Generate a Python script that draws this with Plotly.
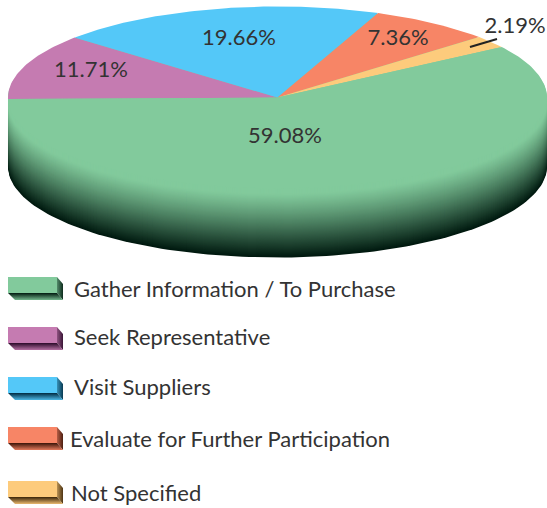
import numpy as np
import plotly.graph_objects as go

categories = ["Gather Information / To Purchase", "Seek Representative", "Visit Suppliers",
              "Evaluate for Further Participation", "Not Specified"]
values = [59.08, 11.71, 19.66, 7.36, 2.19]
colors = ["#82CA9C", "#C57BB1", "#54C8F8", "#F78566", "#FDCB7C"]
dark_colors = ["#00190F", "#2A0A28", "#002A40", "#3A1408", "#3A2408"]

CX, CY, RX, RY, DEPTH = 277.5, 97.5, 269.5, 91, 69
ROTATION = -1.0
FONT = "Lato"
TEXT = "#333333"

label_pos = [(285, 137), (91, 71), (239, 39), (398, 39), (515, 27)]
legend_y = [277, 327, 377, 427, 481]
legend_text_x = [74, 74, 74, 70, 71]
legend_text_y = [291.5, 339.5, 389.5, 441.5, 495.5]

fig = go.Figure()


def ell(theta):
    # theta: degrees clockwise from the left-most point of the pie
    t = np.radians(theta)
    return CX - RX * np.cos(t), CY - RY * np.sin(t)


def mix(c1, c2, f):
    a = [int(c1[i:i + 2], 16) for i in (1, 3, 5)]
    b = [int(c2[i:i + 2], 16) for i in (1, 3, 5)]
    return "rgb(%d,%d,%d)" % tuple(round(x + (y - x) * f) for x, y in zip(a, b))


def poly(xs, ys, color=None, gradient=None):
    trace = dict(x=list(xs), y=list(ys), mode="lines", fill="toself", line=dict(width=0),
                 hoverinfo="skip", showlegend=False)
    if gradient:
        trace["fillgradient"] = gradient
        trace["fillcolor"] = color
    else:
        trace["fillcolor"] = color
    fig.add_trace(go.Scatter(**trace))


# rim of the disc: stacked ellipses from the deepest to the top face
full = np.linspace(0, 360, 241)
ex, ey = ell(full)
for d in range(DEPTH, 0, -1):
    f = d / DEPTH
    shade = min(1, max(0, (f - 0.08) / 0.92)) ** 1.15
    poly(ex, ey + d, mix(colors[0], dark_colors[0], shade))

# top face: wedges, starting with the wedge that runs from the right round the front
order = [1, 2, 3, 4, 0]
start = ROTATION
for i in order:
    sweep = values[i] / sum(values) * 360
    th = np.linspace(start, start + sweep, max(3, int(sweep) + 2))
    x, y = ell(th)
    poly(np.r_[CX, x, CX], np.r_[CY, y, CY], colors[i])
    start += sweep

# leader line of the smallest slice
fig.add_trace(go.Scatter(x=[470, 497], y=[47, 39], mode="lines", hoverinfo="skip", showlegend=False,
                         line=dict(color="#222222", width=2)))

# slice labels
fig.add_trace(go.Scatter(x=[p[0] for p in label_pos], y=[p[1] for p in label_pos], mode="text",
                         text=[f"{v:.2f}%" for v in values], textposition="middle center",
                         textfont=dict(family=FONT, size=22, color=TEXT),
                         hoverinfo="skip", showlegend=False))

# legend swatches
for i, y0 in enumerate(legend_y):
    c, dk = colors[i], dark_colors[i]
    poly([8, 57, 57, 8, 8], [y0, y0, y0 + 16, y0 + 16, y0], c)
    poly([57, 63, 63, 57, 57], [y0, y0 + 7, y0 + 23, y0 + 16, y0], mix(c, dk, 0.6),
         dict(type="horizontal", colorscale=[[0, mix(c, dk, 0.35)], [1, mix(c, dk, 0.9)]]))
    poly([8, 57, 63, 15, 8], [y0 + 16, y0 + 16, y0 + 23, y0 + 23, y0 + 16], mix(c, dk, 0.6),
         dict(type="vertical", colorscale=[[0, mix(c, dk, 0.1)], [1, dk]]))

# legend text
fig.add_trace(go.Scatter(x=legend_text_x, y=legend_text_y, mode="text", text=categories,
                         textposition="middle right",
                         textfont=dict(family=FONT, size=22, color=TEXT),
                         hoverinfo="skip", showlegend=False))

fig.update_layout(width=547, height=508, margin=dict(l=0, r=0, t=0, b=0),
                  paper_bgcolor="white", plot_bgcolor="white", showlegend=False,
                  xaxis=dict(range=[0, 547], visible=False, fixedrange=True),
                  yaxis=dict(range=[508, 0], visible=False, fixedrange=True))
fig.write_html("out.html", config={"displayModeBar": False},
               post_script="document.body.style.margin='0';")
